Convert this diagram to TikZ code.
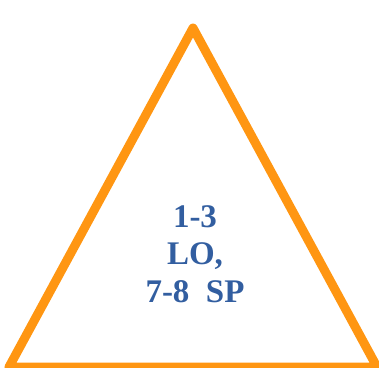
\documentclass[tikz,border=0pt]{standalone}
\usepackage{fontspec}
\setmainfont{Liberation Serif}
\definecolor{triorange}{RGB}{255,150,18}
\definecolor{txtblue}{RGB}{50,94,160}
\begin{document}
\begin{tikzpicture}[x=1pt,y=-1pt,
  tri/.style={draw=triorange,line width=9pt,line join=round},
  lbl/.style={align=center,text=txtblue,font=\fontsize{33}{37.5}\selectfont\bfseries,inner sep=0pt}]
\useasboundingbox (0,0) rectangle (379,367);
\coordinate (apex) at (193,28);
\coordinate (bl) at (9,367);
\coordinate (br) at (377,367);
\begin{scope}
\clip (0,0) rectangle (379,367);
\draw[tri] (apex) -- (bl) -- (br) -- cycle;
\end{scope}
\node[lbl] (t) at (195,254) {1-3\\LO,\\7-8\ \ SP};
\end{tikzpicture}
\end{document}
